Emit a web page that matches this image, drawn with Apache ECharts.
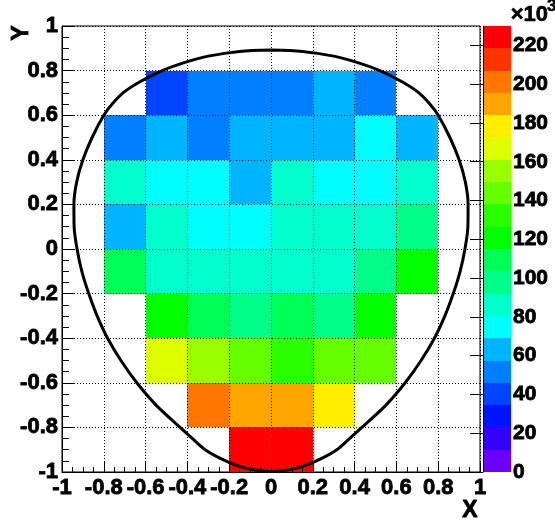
<!DOCTYPE html>
<html>
<head>
<meta charset="utf-8">
<script src="https://cdn.jsdelivr.net/npm/echarts@6/dist/echarts.min.js"></script>
<style>
html,body{margin:0;padding:0;background:#fff;}
#c{width:555px;height:526px;}
</style>
</head>
<body>
<div id="c"></div>
<script>
// ---- data ----
const xEdges = [-1, -0.8, -0.6, -0.4, -0.2, 0, 0.2, 0.4, 0.6, 0.8, 1];
const yEdges = [-1, -0.8, -0.6, -0.4, -0.2, 0, 0.2, 0.4, 0.6, 0.8, 1];
const axisTicks = [-1, -0.8, -0.6, -0.4, -0.2, 0, 0.2, 0.4, 0.6, 0.8, 1];
// bin contents in thousands, rows from bottom (y=-1..-0.8) to top
const row0 = [null, null, null, null, 226, 224, null, null, null, null];
const row1 = [null, null, null, 201, 190, 189, 178, null, null, null];
const row2 = [null, null, 167, 155, 144, 132, 144, 143, null, null];
const row3 = [null, null, 121, 108, 97, 109, 97, 120, null, null];
const row4 = [null, 108, 86, 87, 86, 87, 86, 97, 120, null];
const row5 = [null, 63, 86, 75, 76, 86, 87, 86, 97, null];
const row6 = [null, 86, 75, 76, 63, 86, 75, 76, 87, null];
const row7 = [null, 53, 64, 52, 63, 62, 64, 75, 62, null];
const row8 = [null, null, 40, 52, 52, 51, 63, 52, null, null];
const row9 = [null, null, null, null, null, null, null, null, null, null];
const counts = [row0, row1, row2, row3, row4, row5, row6, row7, row8, row9];
// colour contour levels (thousands) and palette
const contourLevels = [0, 11.5, 23, 34.5, 46, 57.5, 69, 80.5, 92, 103.5, 115, 126.5, 138, 149.5, 161, 172.5, 184, 195.5, 207, 218.5, 230];
const palette = ['#6a00ff', '#3300ff', '#0014ff', '#0044ff', '#0080ff', '#00b4ff', '#00ffff', '#00ffcc', '#00ff88', '#00ff55',
                 '#00ff00', '#2aff00', '#66ff00', '#99ff00', '#ddff00', '#ffee00', '#ffa500', '#ff7700', '#ff3300', '#ff0000'];
const cbTicks = [0, 20, 40, 60, 80, 100, 120, 140, 160, 180, 200, 220];
// outline curve: right half from top to bottom, left half mirrored
const curveHalfX = [0, 0.15, 0.3, 0.4, 0.52, 0.627, 0.708, 0.76, 0.8, 0.856, 0.9, 0.93, 0.943, 0.942, 0.928, 0.905, 0.872, 0.832, 0.782, 0.718, 0.642, 0.55, 0.435, 0.37, 0.315, 0.24, 0.165, 0.085, 0];
const curveHalfY = [0.892, 0.886, 0.865, 0.84, 0.8, 0.75, 0.7, 0.65, 0.6, 0.5, 0.4, 0.3, 0.2, 0.1, 0.0, -0.1, -0.2, -0.3, -0.4, -0.5, -0.6, -0.7, -0.8, -0.855, -0.9, -0.94, -0.97, -0.99, -0.998];

// ---- build ----
const cellData = [];
for (let j = 0; j < counts.length; j++) {
  for (let i = 0; i < counts[j].length; i++) {
    const v = counts[j][i];
    if (v == null) continue;
    cellData.push([xEdges[i], yEdges[j], v, xEdges[i + 1], yEdges[j + 1]]);
  }
}
const bandData = [];
for (let k = 0; k < palette.length; k++) {
  bandData.push([0, contourLevels[k], (contourLevels[k] + contourLevels[k + 1]) / 2, 1, contourLevels[k + 1]]);
}
const pieces = palette.map((c, k) => ({ gte: contourLevels[k], lt: contourLevels[k + 1] + (k === palette.length - 1 ? 1 : 0), color: c }));
const curveData = [];
for (let k = 0; k < curveHalfX.length; k++) curveData.push([curveHalfX[k], curveHalfY[k]]);
for (let k = curveHalfX.length - 2; k >= 0; k--) curveData.push([-curveHalfX[k], curveHalfY[k]]);

const FONT = 'Liberation Sans';
function txt(size) {
  return { color: '#000', fontFamily: FONT, fontWeight: 'bold', fontSize: size, textBorderColor: '#000', textBorderWidth: 0.8 };
}
function fmtTick(v) {
  const r = +(+v).toFixed(1);
  return axisTicks.indexOf(r) >= 0 ? String(r) : '';
}

function rectItem(params, api) {
  const p0 = api.coord([api.value(0), api.value(4)]);
  const p1 = api.coord([api.value(3), api.value(1)]);
  const x0 = Math.round(p0[0]), y0 = Math.round(p0[1]);
  const x1 = Math.round(p1[0]), y1 = Math.round(p1[1]);
  return { type: 'rect', shape: { x: x0, y: y0, width: x1 - x0, height: y1 - y0 }, style: { fill: api.visual('color') } };
}

const chart = echarts.init(document.getElementById('c'), null, { renderer: 'canvas' });
chart.setOption({
  animation: false,
  backgroundColor: '#fff',
  grid: [
    { left: 62, right: 75, top: 26, bottom: 54, show: true, borderColor: '#000', borderWidth: 1 },
    { left: 483, width: 28, top: 26, bottom: 54 }
  ],
  visualMap: {
    type: 'piecewise', show: false, dimension: 2, seriesIndex: [0, 2], pieces: pieces
  },
  xAxis: [
    {
      type: 'value', gridIndex: 0, min: -1, max: 1, interval: 0.2, z: 3,
      axisLine: { show: true, onZero: false, lineStyle: { color: '#000', width: 1 } },
      axisTick: { show: true, inside: true, length: 10, lineStyle: { color: '#000' } },
      minorTick: { show: true, splitNumber: 4, length: 5, lineStyle: { color: '#000' } },
      axisLabel: Object.assign({ margin: 5, formatter: fmtTick }, txt(22)),
      splitLine: { show: true, lineStyle: { color: '#000', width: 1, type: [1, 2] } }
    },
    { type: 'value', gridIndex: 1, min: 0, max: 1, show: false }
  ],
  yAxis: [
    {
      type: 'value', gridIndex: 0, min: -1, max: 1, interval: 0.2, z: 3,
      axisLine: { show: true, onZero: false, lineStyle: { color: '#000', width: 1 } },
      axisTick: { show: true, inside: true, length: 13, lineStyle: { color: '#000' } },
      minorTick: { show: true, splitNumber: 4, length: 7, lineStyle: { color: '#000' } },
      axisLabel: Object.assign({ margin: 4, formatter: fmtTick }, txt(22)),
      splitLine: { show: true, lineStyle: { color: '#000', width: 1, type: [1, 2] } }
    },
    {
      type: 'value', gridIndex: 1, min: 0, max: 230, interval: 20, position: 'right', z: 3,
      axisLine: { show: true, lineStyle: { color: '#000', width: 1 } },
      axisTick: { show: true, inside: true, length: 13, lineStyle: { color: '#000' } },
      axisLabel: Object.assign({ margin: 2, showMaxLabel: false,
                   formatter: v => (cbTicks.indexOf(v) >= 0 ? String(v) : '') }, txt(21)),
      splitLine: { show: false }
    }
  ],
  series: [
    {
      type: 'custom', name: 'hist', xAxisIndex: 0, yAxisIndex: 0, z: 1,
      encode: { x: [0, 3], y: [1, 4] },
      renderItem: rectItem, data: cellData
    },
    {
      type: 'line', name: 'outline', xAxisIndex: 0, yAxisIndex: 0, z: 10,
      data: curveData, smooth: 0.3, showSymbol: false, symbol: 'none',
      lineStyle: { color: '#000', width: 3 }, silent: true
    },
    {
      type: 'custom', name: 'palette', xAxisIndex: 1, yAxisIndex: 1, z: 1,
      encode: { x: [0, 3], y: [1, 4] },
      renderItem: rectItem, data: bandData
    }
  ],
  graphic: [
    { type: 'text', x: 22, y: 33, rotation: Math.PI / 2,
      style: { text: 'Y', fontFamily: FONT, fontWeight: 'bold', fontSize: 23, fill: '#000', stroke: '#000', lineWidth: 0.8, align: 'center', verticalAlign: 'middle' } },
    { type: 'text', x: 470, y: 511,
      style: { text: 'X', fontFamily: FONT, fontWeight: 'bold', fontSize: 23, fill: '#000', stroke: '#000', lineWidth: 0.8, align: 'center', verticalAlign: 'middle' } },
    { type: 'text', x: 548, y: 15,
      style: { text: '×10', fontFamily: FONT, fontWeight: 'bold', fontSize: 22, fill: '#000', stroke: '#000', lineWidth: 0.6, align: 'right', verticalAlign: 'middle' } },
    { type: 'text', x: 547, y: 6,
      style: { text: '3', fontFamily: FONT, fontWeight: 'bold', fontSize: 17, fill: '#000', stroke: '#000', lineWidth: 0.5, align: 'left', verticalAlign: 'middle' } }
  ]
});
</script>
</body>
</html>
